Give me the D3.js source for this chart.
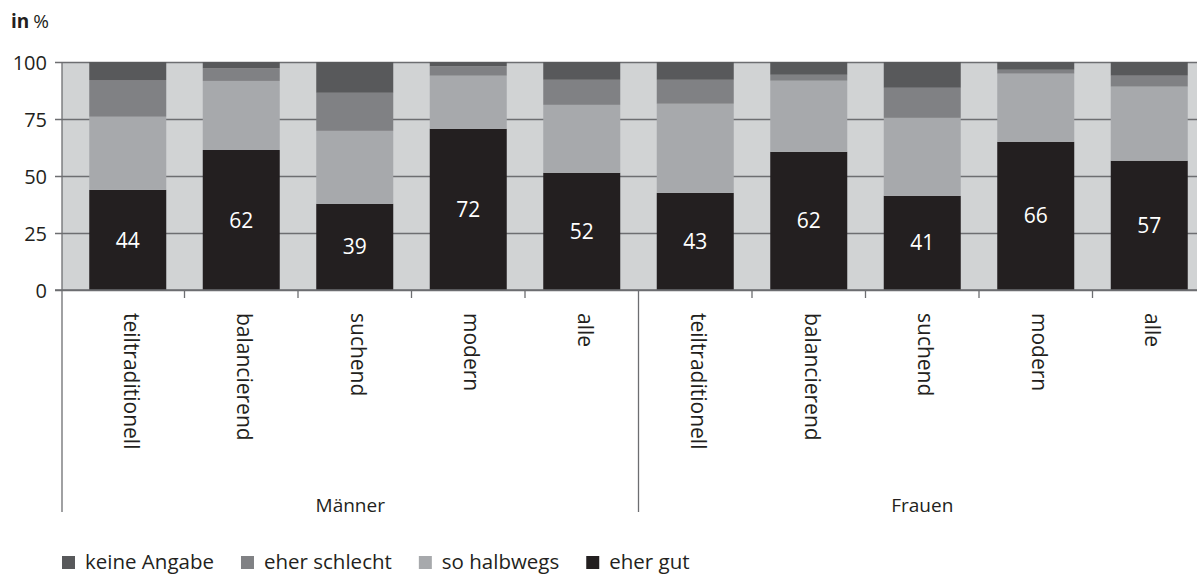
<!DOCTYPE html>
<html lang="de">

<head>
    <meta charset="UTF-8">
    <title>Chart</title>
    <style>
        body {
            margin: 0;
            background: white;
        }

        svg text {
            font-family: "Open Sans", sans-serif;
            fill: #231f20;
        }
    </style>
</head>

<body>
    <div id="chart"></div>
    <script src="https://cdn.jsdelivr.net/npm/d3@7/dist/d3.min.js"></script>
    <script>
        // categories
        const groups = ["Männer", "Frauen"];
        const types = ["teiltraditionell", "balancierend", "suchend", "modern", "alle"];

        // series values (in %), order: Männer x5, Frauen x5
        const eherGut = [43.9, 61.4, 37.8, 70.7, 51.4, 42.6, 60.6, 41.3, 65.0, 56.7];
        const soHalbwegs = [32.1, 30.3, 32.0, 23.3, 29.8, 39.1, 31.2, 34.2, 29.9, 32.5];
        const eherSchlecht = [16.1, 5.5, 16.7, 4.1, 11.0, 10.5, 2.6, 13.2, 1.7, 4.8];
        const keineAngabe = [7.9, 2.8, 13.5, 1.9, 7.8, 7.8, 5.6, 11.3, 3.4, 6.0];

        // printed labels on the black segments
        const gutLabels = [44, 62, 39, 72, 52, 43, 62, 41, 66, 57];

        const yTicks = [0, 25, 50, 75, 100];
        const seriesNames = ["eher gut", "so halbwegs", "eher schlecht", "keine Angabe"];
        const legendOrder = ["keine Angabe", "eher schlecht", "so halbwegs", "eher gut"];

        (() => {
            const width = 1197;
            const height = 576;

            const colors = {
                "keine Angabe": "#58595b",
                "eher schlecht": "#808184",
                "so halbwegs": "#a7a9ac",
                "eher gut": "#231f20"
            };

            const rows = [];
            groups.forEach((g, gi) => {
                types.forEach((t, ti) => {
                    const i = gi * types.length + ti;
                    rows.push({
                        id: g + "|" + t,
                        group: g,
                        type: t,
                        label: gutLabels[i],
                        "eher gut": eherGut[i],
                        "so halbwegs": soHalbwegs[i],
                        "eher schlecht": eherSchlecht[i],
                        "keine Angabe": keineAngabe[i]
                    });
                });
            });

            const axisLeft = 62;
            const plotTop = 62;
            const plotBottom = 290;

            const x = d3.scaleBand()
                .domain(rows.map(d => d.id))
                .range([71, 1206]);

            const barW = 77;
            const barOff = (x.bandwidth() - barW) / 2;

            const y = d3.scaleLinear()
                .domain([0, 100])
                .range([plotBottom, plotTop]);

            const stacked = d3.stack().keys(seriesNames)(rows);

            const svg = d3.select("#chart").append("svg")
                .attr("width", width)
                .attr("height", height);

            // "in %"
            const unit = svg.append("text")
                .attr("x", 11)
                .attr("y", 28)
                .attr("font-size", 19);
            unit.append("tspan").attr("font-weight", 700).text("in");
            unit.append("tspan").attr("dx", 4).text("%");

            // plot background
            svg.append("rect")
                .attr("x", axisLeft)
                .attr("y", plotTop)
                .attr("width", width - axisLeft)
                .attr("height", plotBottom - plotTop)
                .attr("fill", "#d1d3d4");

            // y grid + ticks
            const yAxis = d3.axisLeft(y)
                .tickValues(yTicks)
                .tickSize(-(width - axisLeft + 7))
                .tickPadding(8);

            const gy = svg.append("g")
                .attr("transform", `translate(${axisLeft - 7},0)`)
                .call(yAxis);
            gy.select(".domain").remove();
            gy.selectAll(".tick line")
                .attr("stroke", "#6d6e71")
                .attr("stroke-width", 1.6);
            gy.selectAll(".tick text")
                .attr("font-size", 20)
                .attr("font-family", "Open Sans, sans-serif")
                .attr("fill", "#231f20")
                .attr("x", -8)
                .attr("dy", "0.36em");

            // bars
            svg.append("g")
                .selectAll("g")
                .data(stacked)
                .join("g")
                .attr("fill", d => colors[d.key])
                .selectAll("rect")
                .data(d => d)
                .join("rect")
                .attr("x", d => x(d.data.id) + barOff)
                .attr("width", barW)
                .attr("y", d => y(d[1]))
                .attr("height", d => y(d[0]) - y(d[1]));

            // value labels
            svg.append("g")
                .selectAll("text")
                .data(rows)
                .join("text")
                .attr("x", d => x(d.id) + x.bandwidth() / 2)
                .attr("y", d => (y(0) + y(d["eher gut"])) / 2)
                .attr("dy", "0.36em")
                .attr("text-anchor", "middle")
                .attr("font-size", 21)
                .style("fill", "#ffffff")
                .text(d => d.label);

            // bottom axis line
            svg.append("line")
                .attr("x1", axisLeft - 7)
                .attr("x2", width)
                .attr("y1", plotBottom)
                .attr("y2", plotBottom)
                .attr("stroke", "#6d6e71")
                .attr("stroke-width", 1.6);

            // category ticks between bars, long one between the groups
            const bounds = rows.slice(1).map(d => x(d.id));
            svg.append("g")
                .selectAll("line")
                .data(bounds)
                .join("line")
                .attr("x1", d => d)
                .attr("x2", d => d)
                .attr("y1", plotBottom)
                .attr("y2", (d, i) => i === types.length - 1 ? 512 : plotBottom + 8)
                .attr("stroke", "#6d6e71")
                .attr("stroke-width", 1.3);

            // left axis line
            svg.append("line")
                .attr("x1", axisLeft)
                .attr("x2", axisLeft)
                .attr("y1", plotTop)
                .attr("y2", 512)
                .attr("stroke", "#6d6e71")
                .attr("stroke-width", 1.3);

            // rotated category labels
            svg.append("g")
                .selectAll("text")
                .data(rows)
                .join("text")
                .attr("transform", d => `translate(${x(d.id) + x.bandwidth() / 2},313) rotate(90)`)
                .attr("y", 4)
                .attr("font-size", 21)
                .text(d => d.type);

            // group labels
            const groupSpans = groups.map((g, gi) => {
                const first = rows[gi * types.length].id;
                const last = rows[gi * types.length + types.length - 1].id;
                const x0 = gi === 0 ? axisLeft : x(first);
                const x1 = x(last) + x.bandwidth();
                return { name: g, cx: (x0 + x1) / 2 };
            });
            svg.append("g")
                .selectAll("text")
                .data(groupSpans)
                .join("text")
                .attr("x", d => d.cx)
                .attr("y", 512)
                .attr("text-anchor", "middle")
                .attr("font-size", 19)
                .text(d => d.name);

            // legend
            const legend = svg.append("g")
                .attr("transform", "translate(62,569)");
            let lx = 0;
            legendOrder.forEach(k => {
                const item = legend.append("g").attr("transform", `translate(${lx},0)`);
                item.append("rect")
                    .attr("x", 0)
                    .attr("y", -13)
                    .attr("width", 13)
                    .attr("height", 13)
                    .attr("fill", colors[k]);
                const t = item.append("text")
                    .attr("x", 23)
                    .attr("y", 0)
                    .attr("font-size", 20.5)
                    .text(k);
                lx += 23 + t.node().getComputedTextLength() + 27;
            });
        })()
    </script>
</body>

</html>
